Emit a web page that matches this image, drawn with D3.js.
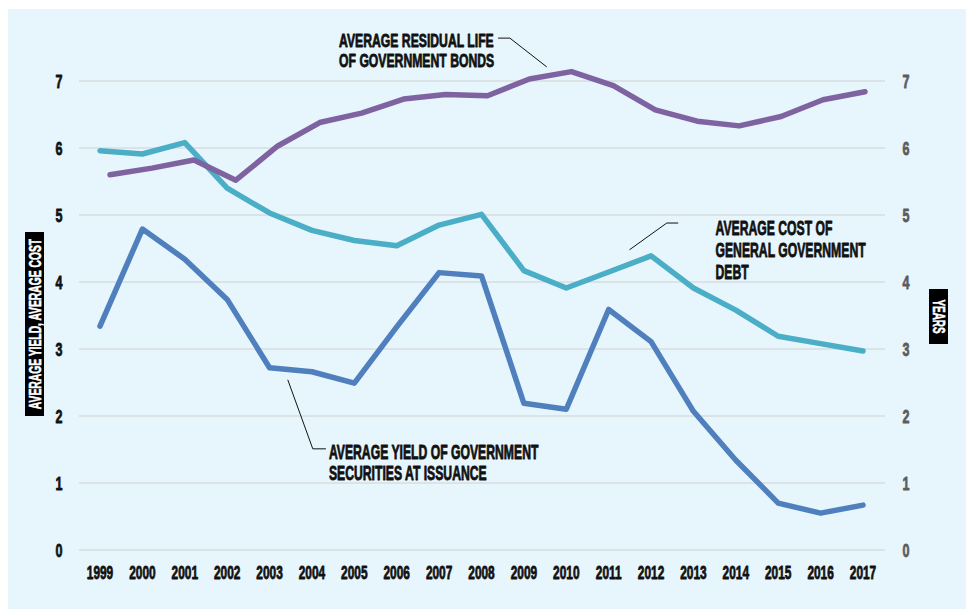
<!DOCTYPE html>
<html>
<head>
<meta charset="utf-8">
<title></title>
<style>
  body { margin: 0; background: #fff; }
</style>
</head>
<body>

<svg id='chart' xmlns="http://www.w3.org/2000/svg"></svg>

<script type="text/javascript" src="https://d3js.org/d3.v7.min.js"></script>
<script type="text/javascript">

const width = 970;
const height = 610;

const years = [1999, 2000, 2001, 2002, 2003, 2004, 2005, 2006, 2007, 2008,
               2009, 2010, 2011, 2012, 2013, 2014, 2015, 2016, 2017];

// left axis (%)
const yieldAtIssuance = [3.34, 4.79, 4.34, 3.74, 2.72, 2.66, 2.49, 3.33, 4.14, 4.09,
                         2.19, 2.10, 3.59, 3.11, 2.07, 1.34, 0.70, 0.55, 0.67];
const costOfDebt      = [5.96, 5.91, 6.08, 5.40, 5.03, 4.77, 4.62, 4.54, 4.85, 5.01,
                         4.17, 3.91, 4.15, 4.39, 3.91, 3.58, 3.19, 3.08, 2.97];
// right axis (years)
const residualLife    = [5.60, 5.70, 5.82, 5.52, 6.03, 6.38, 6.52, 6.73, 6.80, 6.78,
                         7.03, 7.14, 6.93, 6.57, 6.40, 6.33, 6.47, 6.72, 6.84];

const leftTicks = [0, 1, 2, 3, 4, 5, 6, 7];
const rightTicks = [0, 1, 2, 3, 4, 5, 6, 7];

const font = "'Liberation Sans', Arial, sans-serif";

const svg = d3.select('#chart')
    .attr("width", width)
    .attr("height", height)
    .attr("viewBox", `0 0 ${width} ${height}`);

// panel
svg.append("rect")
    .attr("x", 8).attr("y", 9)
    .attr("width", 958).attr("height", 600)
    .attr("fill", "#e7f5fc");

const x = d3.scalePoint().domain(years).range([100, 863]);
// the residual life series sits on its own slightly offset layer
const x2 = d3.scalePoint().domain(years).range([110, 865]);
const xl = d3.scaleLinear().domain([1999, 2017]).range([100, 863]);
const y = d3.scaleLinear().domain([0, 7]).range([550, 81]);
const y2 = d3.scaleLinear().domain([0, 7]).range([550, 81]);

// condensed heavy text: squeeze glyphs horizontally, thicken with a stroke
function ctext(parent, px, py, str, o = {}) {
  const fill = o.fill || "#111";
  const g = parent.append("g")
      .attr("transform", `translate(${px},${py}) rotate(${o.rotate || 0}) scale(${o.sx || 0.66},1)`);
  g.append("text")
      .attr("text-anchor", o.anchor || "start")
      .attr("dy", o.dy || 0)
      .attr("fill", fill)
      .attr("stroke", fill)
      .attr("stroke-width", o.sw || 0.8)
      .attr("stroke-linejoin", "round")
      .style("font-family", font)
      .style("font-weight", "bold")
      .style("font-size", (o.size || 18) + "px")
      .text(str);
  return g;
}

// gridlines
svg.append("g")
  .selectAll("line")
  .data(leftTicks)
  .join("line")
    .attr("x1", 79).attr("x2", 885)
    .attr("y1", d => y(d)).attr("y2", d => y(d))
    .attr("stroke", "#d8dcdf")
    .attr("stroke-width", 1.3);

// left tick labels
const gl = svg.append("g");
leftTicks.forEach(t => ctext(gl, 59, y(t), t, {anchor: "middle", dy: "0.36em", size: 19, sx: 0.66}));

// right tick labels
const gr = svg.append("g");
rightTicks.forEach(t => ctext(gr, 906, y2(t), t, {anchor: "middle", dy: "0.36em", size: 19, sx: 0.66, fill: "#5b5c5e"}));

// x labels
const gx = svg.append("g");
years.forEach(d => ctext(gx, x(d), 578.5, d, {anchor: "middle", size: 18, sx: 0.66}));

// axis titles
svg.append("rect").attr("x", 25).attr("y", 232).attr("width", 19).attr("height", 184).attr("fill", "#000");
ctext(svg, 35, 324, "AVERAGE YIELD, AVERAGE COST", {anchor: "middle", dy: "0.36em", size: 16.5, sx: 0.625, rotate: -90, fill: "#fff", sw: 0.6});

svg.append("rect").attr("x", 929).attr("y", 289).attr("width", 19).attr("height", 55).attr("fill", "#000");
ctext(svg, 938.5, 316.5, "YEARS", {anchor: "middle", dy: "0.36em", size: 16.5, sx: 0.6, rotate: 90, fill: "#fff", sw: 0.6});

// lines
const series = [
  {values: costOfDebt, xs: x, ys: y, color: "#4aaec6"},
  {values: yieldAtIssuance, xs: x, ys: y, color: "#4f80bd"},
  {values: residualLife, xs: x2, ys: y2, color: "#7f63a1"}
];

series.forEach(s => {
  const line = d3.line()
      .x((d, i) => s.xs(years[i]))
      .y(d => s.ys(d));
  svg.append("path")
      .datum(s.values)
      .attr("d", line)
      .attr("fill", "none")
      .attr("stroke", s.color)
      .attr("stroke-width", 5.5)
      .attr("stroke-linecap", "round")
      .attr("stroke-linejoin", "round");
});

// annotations (positioned in data units)
const notes = [
  {lines: ["AVERAGE RESIDUAL LIFE", "OF GOVERNMENT BONDS"], at: [2004.64, 7.505], step: 20, size: 18.5,
   leader: [[2008.39, 7.64], [2008.67, 7.64], [2009.54, 7.21]]},
  {lines: ["AVERAGE COST OF", "GENERAL GOVERNMENT", "DEBT"], at: [2013.52, 4.70], step: 22, size: 20.5,
   leader: [[2011.49, 4.48], [2012.37, 4.88], [2012.64, 4.88]]},
  {lines: ["AVERAGE YIELD OF GOVERNMENT", "SECURITIES AT ISSUANCE"], at: [2004.40, 1.36], step: 21, size: 19.5,
   leader: [[2003.43, 2.54], [2004.02, 1.51], [2004.33, 1.51]]}
];

const ga = svg.append("g");
notes.forEach(n => {
  n.lines.forEach((l, i) => ctext(ga, xl(n.at[0]), y(n.at[1]) + i * n.step, l, {size: n.size, sx: 12.2 / n.size}));
  ga.append("path")
      .attr("d", d3.line().x(p => xl(p[0])).y(p => y(p[1]))(n.leader))
      .attr("fill", "none")
      .attr("stroke", "#111")
      .attr("stroke-width", 1);
});

</script>
</body>
</html>
